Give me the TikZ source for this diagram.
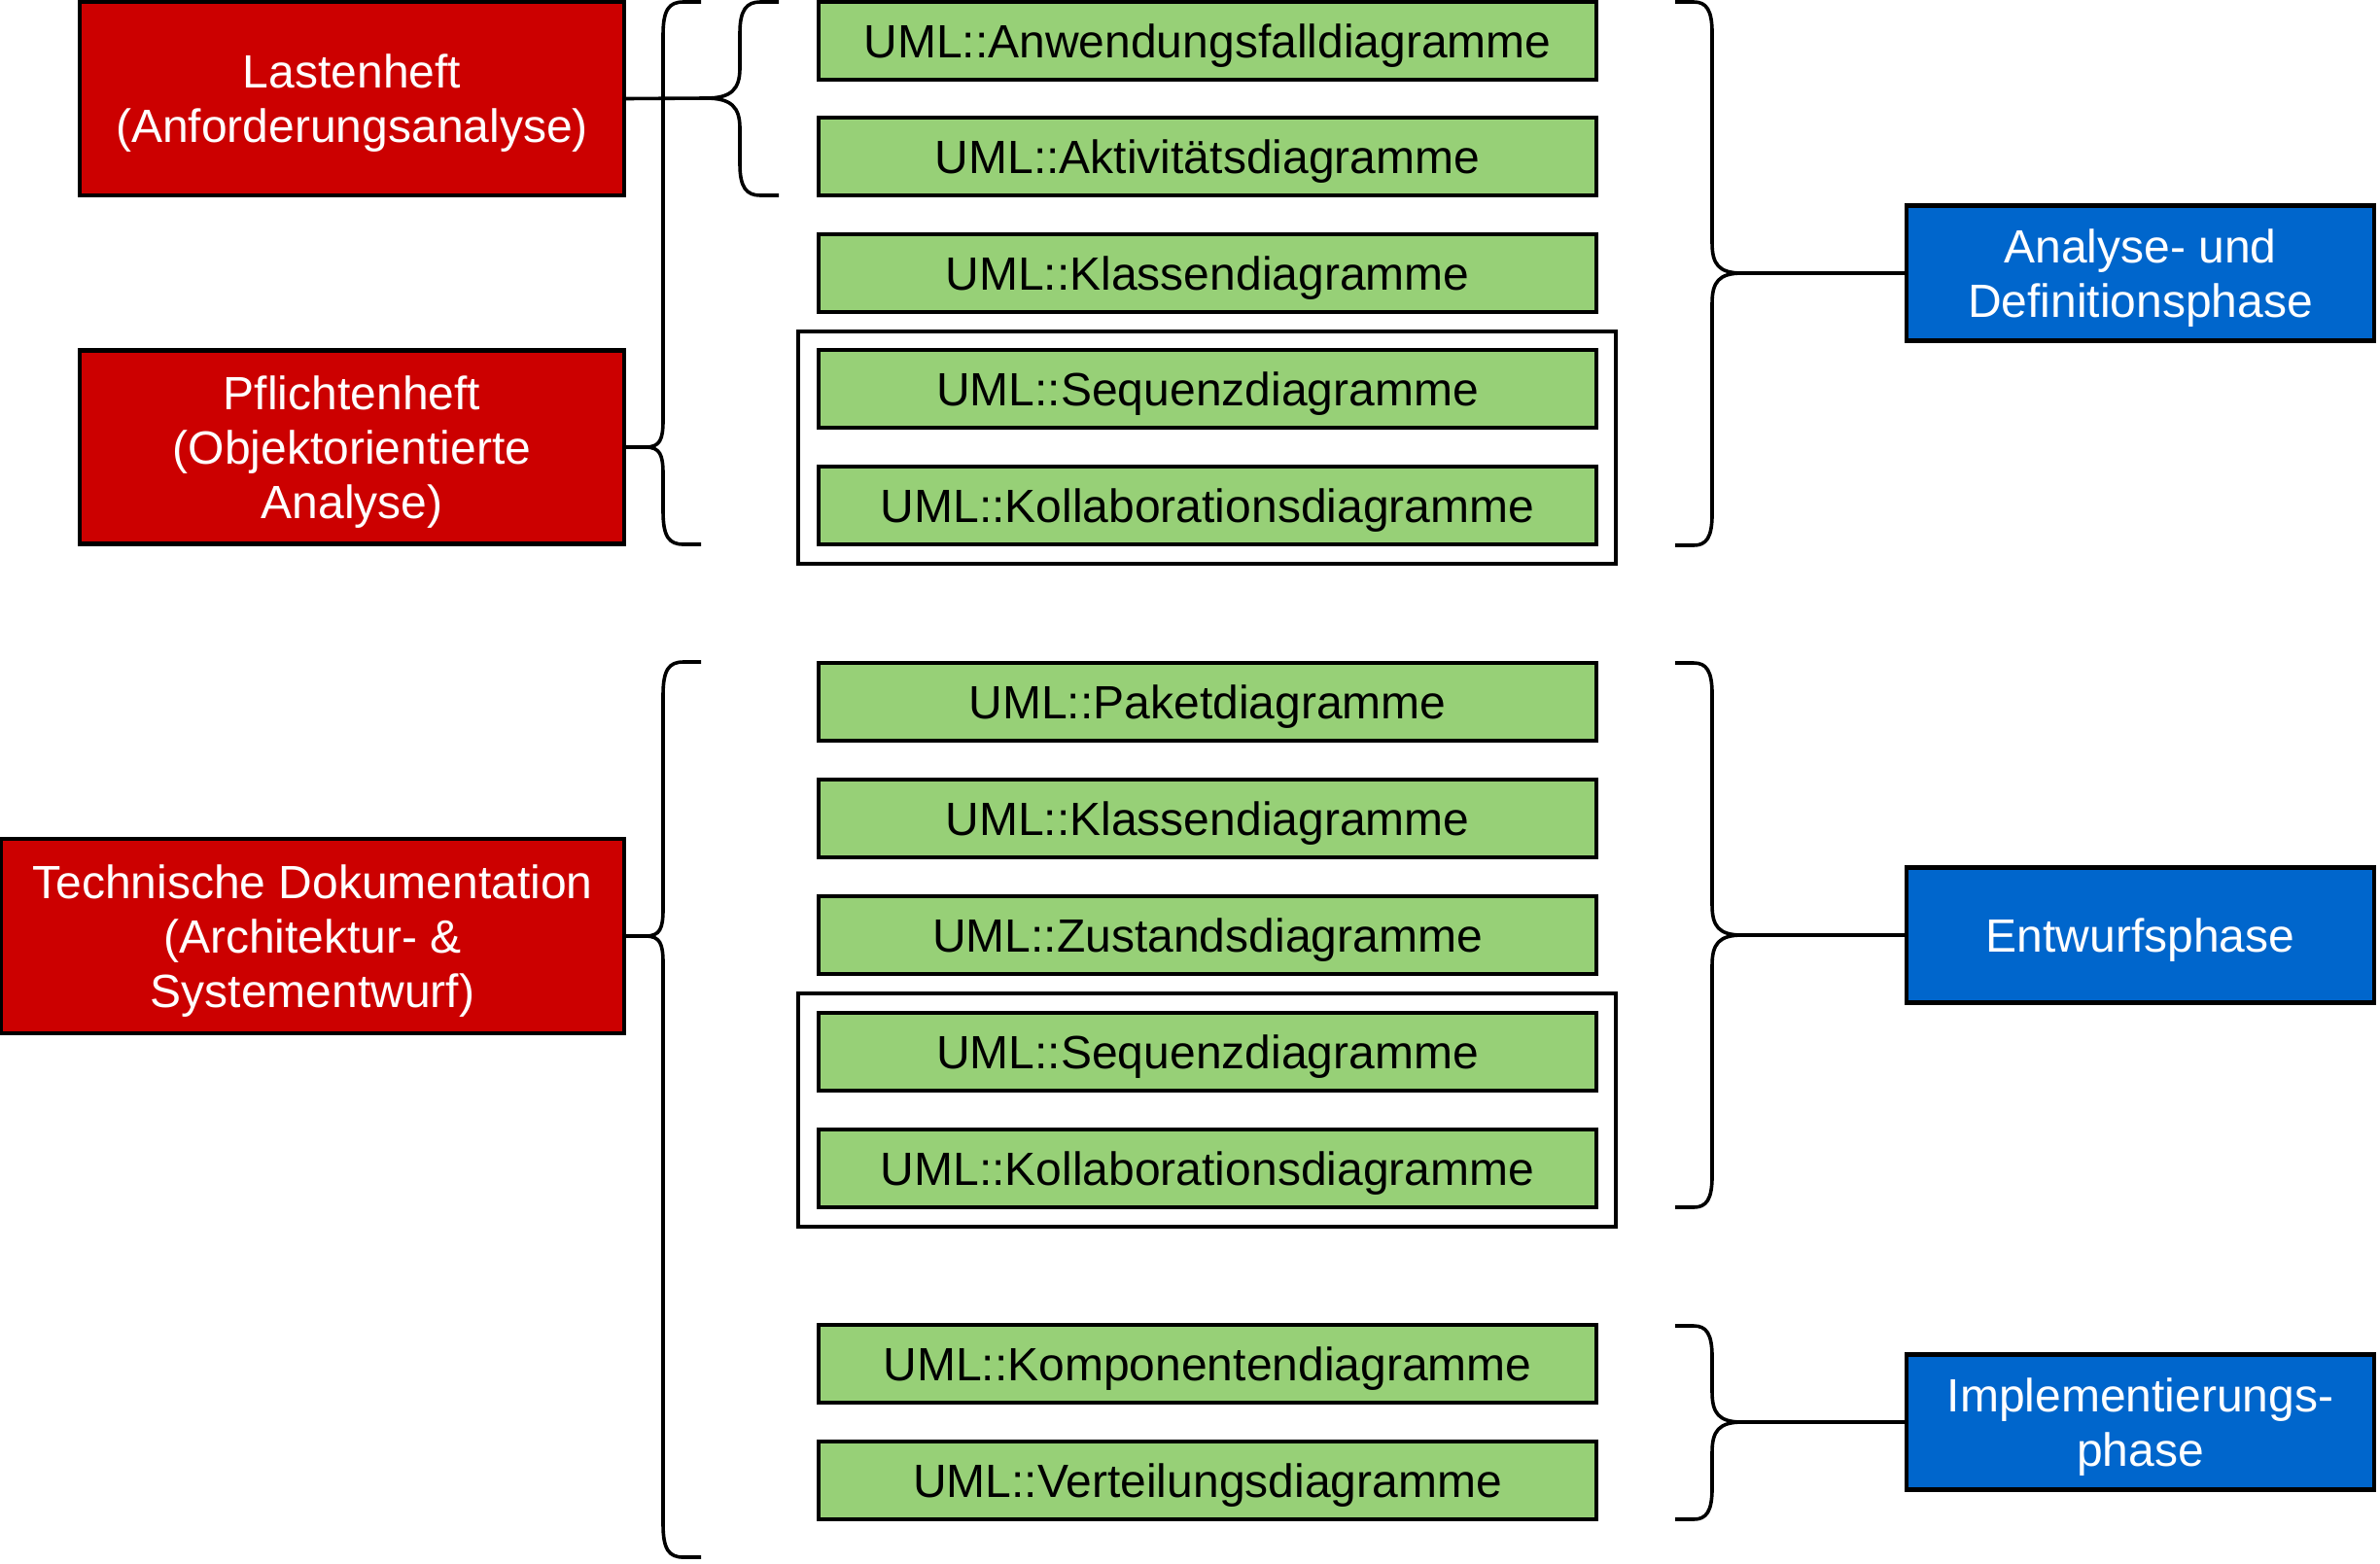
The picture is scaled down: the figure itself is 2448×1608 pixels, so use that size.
\documentclass[tikz,border=0pt]{standalone}
\usepackage{fontspec}
\setmainfont{Liberation Sans}
\definecolor{boxred}{HTML}{CC0000}
\definecolor{boxgreen}{HTML}{97D077}
\definecolor{boxblue}{HTML}{0066CC}
\tikzset{
  basebox/.style={draw=black, line width=1.1pt, outer sep=0pt, align=center, inner sep=2pt, text depth=0pt},
  redbox/.style={basebox, fill=boxred, text=white, minimum width=140pt, minimum height=49.75pt},
  greenbox/.style={basebox, fill=boxgreen, text=black, minimum width=200pt, minimum height=20pt},
  bluebox/.style={basebox, fill=boxblue, text=white, minimum width=120.25pt, minimum height=34.75pt},
  groupframe/.style={draw=black, line width=1.1pt, outer sep=0pt, minimum width=210.25pt},
  brace/.style={draw=black, line width=0.9pt, line join=round}
}
\begin{document}
\begin{tikzpicture}[x=0.25pt, y=-0.25pt, font=\fontsize{12}{14}\selectfont]
\useasboundingbox (0,0) rectangle (2448,1608);

% group frames
\node[groupframe, minimum height=59.75pt] (fr1) at (1241.5,460.5) {};
\node[groupframe, minimum height=60pt] (fr2) at (1241.5,1142) {};

% red boxes
\node[redbox] (lh) at (362,101.5) {Lastenheft\\(Anforderungsanalyse)};
\node[redbox] (pf) at (362,460) {Pflichtenheft\\(Objektorientierte\\Analyse)};
\node[redbox, minimum width=160.25pt, minimum height=50pt] (td) at (321.5,963) {Technische Dokumentation\\(Architektur- \&\\Systementwurf)};

% green boxes
\node[greenbox] (g1) at (1242,42) {UML::Anwendungsfalldiagramme};
\node[greenbox] (g2) at (1242,161) {UML::Aktivitätsdiagramme};
\node[greenbox] (g3) at (1242,281) {UML::Klassendiagramme};
\node[greenbox] (g4) at (1242,400) {UML::Sequenzdiagramme};
\node[greenbox] (g5) at (1242,520) {UML::Kollaborationsdiagramme};
\node[greenbox] (g6) at (1242,722) {UML::Paketdiagramme};
\node[greenbox] (g7) at (1242,842) {UML::Klassendiagramme};
\node[greenbox] (g8) at (1242,962) {UML::Zustandsdiagramme};
\node[greenbox] (g9) at (1242,1082) {UML::Sequenzdiagramme};
\node[greenbox] (g10) at (1242,1202) {UML::Kollaborationsdiagramme};
\node[greenbox] (g11) at (1242,1403) {UML::Komponentendiagramme};
\node[greenbox] (g12) at (1242,1523) {UML::Verteilungsdiagramme};

% blue boxes
\node[bluebox] (ana) at (2201.5,281) {Analyse- und\\Definitionsphase};
\node[bluebox] (ent) at (2201.5,962) {Entwurfsphase};
\node[bluebox] (imp) at (2201.5,1463) {Implementierungs-\\phase};

% left braces
% Pflichtenheft (outer, top)
\draw[brace] (pf.east) -- (664,460) .. controls (679,460) and (682,452) .. (682,432)
  -- (682,36) .. controls (682,10) and (688,2) .. (703,2) -- (721,2);
\draw[brace] (664,460) .. controls (679,460) and (682,468) .. (682,488)
  -- (682,526) .. controls (682,552) and (688,560) .. (703,560) -- (721,560);
% Lastenheft (inner)
\draw[brace] (lh.east) -- (726,101) .. controls (752,101) and (761,92) .. (761,70)
  -- (761,34) .. controls (761,10) and (768,2) .. (782,2) -- (801,2);
\draw[brace] (726,101) .. controls (752,101) and (761,110) .. (761,132)
  -- (761,169) .. controls (761,193) and (768,201) .. (782,201) -- (801,201);
% Technische Dokumentation
\draw[brace] (td.east) -- (664,963) .. controls (679,963) and (682,955) .. (682,935)
  -- (682,715) .. controls (682,689) and (688,681) .. (703,681) -- (721,681);
\draw[brace] (664,963) .. controls (679,963) and (682,971) .. (682,991)
  -- (682,1568) .. controls (682,1594) and (688,1602) .. (703,1602) -- (721,1602);

% right braces
% Analyse
\draw[brace] (ana.west) -- (1792,281) .. controls (1768,281) and (1761,272) .. (1761,250)
  -- (1761,34) .. controls (1761,10) and (1755,2) .. (1742,2) -- (1723,2);
\draw[brace] (1792,281) .. controls (1768,281) and (1761,290) .. (1761,312)
  -- (1761,529) .. controls (1761,553) and (1755,561) .. (1742,561) -- (1723,561);
% Entwurf
\draw[brace] (ent.west) -- (1792,962) .. controls (1768,962) and (1761,953) .. (1761,931)
  -- (1761,714) .. controls (1761,690) and (1755,682) .. (1742,682) -- (1723,682);
\draw[brace] (1792,962) .. controls (1768,962) and (1761,971) .. (1761,993)
  -- (1761,1210) .. controls (1761,1234) and (1755,1242) .. (1742,1242) -- (1723,1242);
% Implementierung
\draw[brace] (imp.west) -- (1792,1463) .. controls (1768,1463) and (1761,1454) .. (1761,1432)
  -- (1761,1396) .. controls (1761,1372) and (1755,1364) .. (1742,1364) -- (1723,1364);
\draw[brace] (1792,1463) .. controls (1768,1463) and (1761,1472) .. (1761,1494)
  -- (1761,1531) .. controls (1761,1555) and (1755,1563) .. (1742,1563) -- (1723,1563);
\end{tikzpicture}
\end{document}
